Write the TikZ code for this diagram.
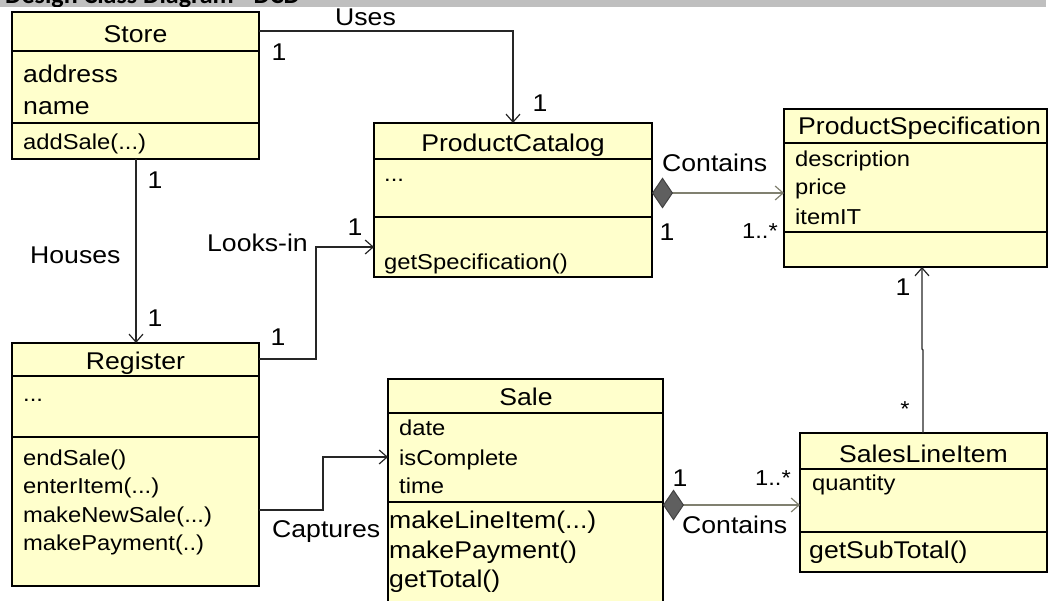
\documentclass[tikz,border=0pt]{standalone}
\usepackage{fontspec}
\setmainfont{Liberation Sans}[FakeStretch=1.1]
\newfontfamily\hdrfont{Carlito}
\usetikzlibrary{arrows.meta}
\definecolor{boxfill}{RGB}{255,255,204}
\definecolor{comp}{RGB}{128,128,112}
\definecolor{diafill}{RGB}{95,95,95}
\definecolor{hdr}{RGB}{191,191,191}
\begin{document}
\begin{tikzpicture}[x=1pt,y=-1pt,
  cls/.style={draw=black,fill=boxfill,line width=1.3pt,anchor=north west,inner sep=0pt,outer sep=0pt},
  div/.style={draw=black,line width=1.3pt},
  big/.style={inner sep=0pt,font=\fontsize{24.2}{29}\selectfont},
  small/.style={inner sep=0pt,font=\fontsize{21.6}{26}\selectfont},
  bw/.style={anchor=base west},
  bc/.style={anchor=base},
  assoc/.style={draw=black!85,line width=1.2pt,-{Straight Barb[length=8pt,width=14pt,line width=1.2pt]}},
  compo/.style={draw=comp,line width=1.5pt,{Diamond[fill=diafill,color=diafill!70!black,length=21pt,width=31pt,line width=1pt]}-{Straight Barb[length=8pt,width=14pt,line width=1.2pt]}}]
\useasboundingbox (0,0) rectangle (1048,601);
\clip (0,0) rectangle (1048,601);
% header bar
\fill[hdr] (0,0) rectangle (1046,7);
\begin{scope}
\clip (0,0) rectangle (1046,7);
\node[bw,inner sep=0pt,font=\hdrfont\bfseries\fontsize{26}{30}\selectfont] (hdrtext) at (5,4) {Design Class Diagram - DCD};
\end{scope}
% classes
\node[cls,minimum width=247pt,minimum height=147pt] (store) at (12,12) {};
\node[cls,minimum width=278pt,minimum height=154pt] (pc) at (374,123) {};
\node[cls,minimum width=263pt,minimum height=158pt] (ps) at (784,109) {};
\node[cls,minimum width=247pt,minimum height=243pt] (reg) at (12,343) {};
\node[cls,minimum width=275pt,minimum height=231pt] (sale) at (388,379) {};
\node[cls,minimum width=247pt,minimum height=139pt] (sli) at (800,433) {};
% dividers
\draw[div] (store.west |- 0,51) -- (store.east |- 0,51);
\draw[div] (store.west |- 0,123) -- (store.east |- 0,123);
\draw[div] (pc.west |- 0,159) -- (pc.east |- 0,159);
\draw[div] (pc.west |- 0,217) -- (pc.east |- 0,217);
\draw[div] (ps.west |- 0,143) -- (ps.east |- 0,143);
\draw[div] (ps.west |- 0,232) -- (ps.east |- 0,232);
\draw[div] (reg.west |- 0,376) -- (reg.east |- 0,376);
\draw[div] (reg.west |- 0,437) -- (reg.east |- 0,437);
\draw[div] (sale.west |- 0,413) -- (sale.east |- 0,413);
\draw[div] (sale.west |- 0,502) -- (sale.east |- 0,502);
\draw[div] (sli.west |- 0,469) -- (sli.east |- 0,469);
\draw[div] (sli.west |- 0,532) -- (sli.east |- 0,532);
% texts: Store
\node[big,bc] (t1) at (135.5,43) {Store};
\node[big,bw] (t2) at (23,83) {address};
\node[big,bw] (t3) at (23,115) {name};
\node[small,bw] (t4) at (23,150) {addSale(...)};
% ProductCatalog
\node[big,bc] (t5) at (513,152) {ProductCatalog};
\node[small,bw] (t6) at (384,182) {...};
\node[small,bw] (t7) at (384,270) {getSpecification()};
% ProductSpecification
\node[big,bw] (t8) at (798,135) {ProductSpecification};
\node[small,bw] (t9) at (795,167) {description};
\node[small,bw] (t10) at (795,195) {price};
\node[small,bw] (t11) at (795,225) {itemIT};
% Register
\node[big,bc] (t12) at (135.5,369) {Register};
\node[small,bw] (t13) at (23,401) {...};
\node[small,bw] (t14) at (23,465) {endSale()};
\node[small,bw] (t15) at (23,493) {enterItem(...)};
\node[small,bw] (t16) at (23,522) {makeNewSale(...)};
\node[small,bw] (t17) at (23,550) {makePayment(..)};
% Sale
\node[big,bc] (t18) at (526,405) {Sale};
\node[small,bw] (t19) at (399,435) {date};
\node[small,bw] (t20) at (399,465) {isComplete};
\node[small,bw] (t21) at (399,493) {time};
\node[big,bw] (t22) at (389,528) {makeLineItem(...)};
\node[big,bw] (t23) at (389,558) {makePayment()};
\node[big,bw] (t24) at (389,587) {getTotal()};
% SalesLineItem
\node[big,bc] (t25) at (923.5,462) {SalesLineItem};
\node[small,bw] (t26) at (812,490) {quantity};
\node[big,bw] (t27) at (809,558) {getSubTotal()};
% connectors
\draw[assoc] (store.east |- 0,31) -- (513,31) -- (pc.north -| 513,0);
\draw[assoc] (store.south -| 136,0) -- (reg.north -| 136,0);
\draw[assoc] (reg.east |- 0,359) -- (316,359) -- (316,247) -- (pc.west |- 0,247);
\draw[assoc] (reg.east |- 0,510) -- (323,510) -- (323,457) -- (sale.west |- 0,457);
\draw[compo] (pc.east |- 0,193) -- (ps.west |- 0,193);
\draw[compo] (sale.east |- 0,505) -- (sli.west |- 0,505);
\draw[assoc] (sli.north -| 923,0) -- (923,350) -- (922,349) -- (ps.south -| 922,0);
% association labels
\node[big,bw] (l1) at (335,26) {Uses};
\node[big,bw] (l2) at (30,264) {Houses};
\node[big,anchor=base east] (l3) at (308,252) {Looks-in};
\node[big,bw] (l4) at (272,537) {Captures};
\node[big,bw] (l5) at (662,172) {Contains};
\node[big,bw] (l6) at (682,533) {Contains};
% multiplicities
\node[big] (m1) at (279,52) {1};
\node[big] (m2) at (540,103) {1};
\node[big] (m3) at (155,180) {1};
\node[big] (m4) at (155,318) {1};
\node[big] (m5) at (278,337) {1};
\node[big] (m6) at (355,227) {1};
\node[big] (m7) at (667,232) {1};
\node[small] (m8) at (760,231) {1..*};
\node[big] (m9) at (903,287) {1};
\node[small] (m10) at (905,409) {*};
\node[big] (m11) at (680,478) {1};
\node[small] (m12) at (773,478) {1..*};
\end{tikzpicture}
\end{document}
